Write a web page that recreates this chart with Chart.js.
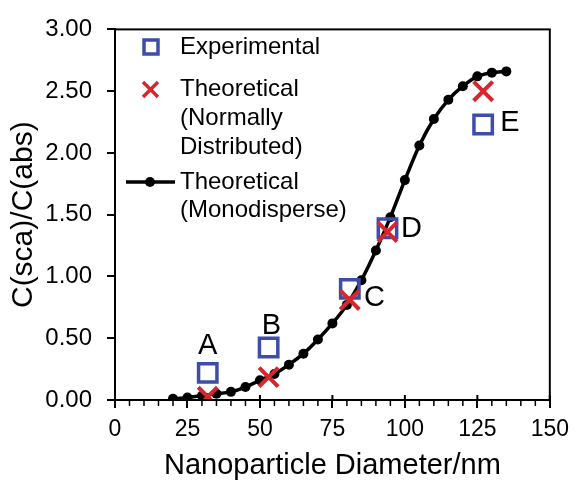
<!DOCTYPE html>
<html>
<head>
<meta charset="utf-8">
<script src="https://cdn.jsdelivr.net/npm/chart.js@4"></script>
<style>
  html, body { margin: 0; padding: 0; background: #fff; }
  #wrap { width: 577px; height: 480px; }
</style>
</head>
<body>
<div id="wrap"><canvas id="chart"></canvas></div>
<script>
// monodisperse theory curve
const monoD = [20, 25, 30, 35, 40, 45, 50, 55, 60, 65, 70, 75, 80, 85, 90, 95, 100, 105, 110, 115, 120, 125, 130, 135];
const monoR = [0.01, 0.02, 0.035, 0.05, 0.066, 0.105, 0.16, 0.21, 0.286, 0.375, 0.49, 0.62, 0.77, 0.97, 1.21, 1.48, 1.78, 2.06, 2.275, 2.43, 2.54, 2.62, 2.65, 2.66];

// samples A-E
const sampleNames = ['A', 'B', 'C', 'D', 'E'];
const sampleD  = [32, 53, 81, 94, 127];
const expR     = [0.22, 0.425, 0.90, 1.39, 2.23];
const theoR    = [0.026, 0.185, 0.81, 1.36, 2.50];
// where the letter labels sit (data units)
const nameX = [32, 54, 89.5, 102.3, 136.2];
const nameY = [0.444, 0.61, 0.83, 1.39, 2.25];

const yTicks = [0, 0.5, 1, 1.5, 2, 2.5, 3];

const BLUE = 'rgb(62, 76, 172)';
const RED  = 'rgb(214, 38, 46)';
const FONT = "'Liberation Sans', Arial, sans-serif";

const toXY = (xs, ys) => xs.map((x, i) => ({ x, y: ys[i] }));

const frame = {
    id: 'frame',
    afterDraw(chart) {
        const { ctx, chartArea: a, scales: { x } } = chart;
        ctx.save();
        ctx.strokeStyle = '#000';
        ctx.lineWidth = 2;
        ctx.strokeRect(a.left, a.top, a.right - a.left, a.bottom - a.top);
        // minor ticks every 5 nm
        ctx.lineWidth = 1.5;
        for (let v = 0; v <= 150; v += 5) {
            if (v % 25 === 0) continue;
            const px = x.getPixelForValue(v);
            ctx.beginPath();
            ctx.moveTo(px, a.bottom);
            ctx.lineTo(px, a.bottom + 6);
            ctx.stroke();
        }
        // major ticks poke a little inside too
        ctx.lineWidth = 2;
        for (let v = 0; v <= 150; v += 25) {
            const px = x.getPixelForValue(v);
            ctx.beginPath();
            ctx.moveTo(px, a.bottom - 5);
            ctx.lineTo(px, a.bottom);
            ctx.stroke();
        }
        ctx.restore();
    }
};

const letters = {
    id: 'letters',
    afterDatasetsDraw(chart) {
        const { ctx, scales: { x, y } } = chart;
        ctx.save();
        ctx.fillStyle = '#000';
        ctx.font = '29px ' + FONT;
        ctx.textAlign = 'center';
        ctx.textBaseline = 'middle';
        sampleNames.forEach((n, i) => {
            ctx.fillText(n, x.getPixelForValue(nameX[i]), y.getPixelForValue(nameY[i]) + 1);
        });
        ctx.restore();
    }
};

const legendBox = {
    id: 'legendBox',
    afterDraw(chart) {
        const ctx = chart.ctx;
        ctx.save();
        ctx.font = '24px ' + FONT;
        ctx.fillStyle = '#000';
        ctx.textBaseline = 'middle';
        ctx.textAlign = 'left';
        const tx = 180;
        // square
        ctx.strokeStyle = BLUE;
        ctx.lineWidth = 3.5;
        ctx.strokeRect(144, 40, 14, 14);
        ctx.fillText('Experimental', tx, 47);
        // cross
        ctx.strokeStyle = RED;
        ctx.lineWidth = 3.5;
        ctx.beginPath();
        ctx.moveTo(143, 82); ctx.lineTo(158, 97);
        ctx.moveTo(158, 82); ctx.lineTo(143, 97);
        ctx.stroke();
        ctx.fillText('Theoretical', tx, 89);
        ctx.fillText('(Normally', tx, 118);
        ctx.fillText('Distributed)', tx, 147);
        // line + dot
        ctx.strokeStyle = '#000';
        ctx.lineWidth = 3.5;
        ctx.beginPath();
        ctx.moveTo(126, 182); ctx.lineTo(175, 182);
        ctx.stroke();
        ctx.beginPath();
        ctx.arc(150, 182, 5, 0, Math.PI * 2);
        ctx.fill();
        ctx.fillText('Theoretical', tx, 182);
        ctx.fillText('(Monodisperse)', tx, 210);
        ctx.restore();
    }
};

new Chart(document.getElementById('chart'), {
    type: 'scatter',
    data: {
        datasets: [
            {
                label: 'Theoretical (Normally Distributed)',
                data: toXY(sampleD, theoR),
                order: 0,
                pointStyle: 'crossRot',
                pointRadius: 13.5,
                pointBorderWidth: 4,
                borderColor: RED,
                backgroundColor: RED
            },
            {
                label: 'Experimental',
                data: toXY(sampleD, expR),
                order: 1,
                pointStyle: 'rect',
                pointRadius: 13,
                pointBorderWidth: 3.5,
                borderColor: BLUE,
                backgroundColor: 'rgba(0,0,0,0)'
            },
            {
                label: 'Theoretical (Monodisperse)',
                data: toXY(monoD, monoR),
                order: 2,
                showLine: true,
                cubicInterpolationMode: 'monotone',
                borderColor: '#000',
                borderWidth: 3.5,
                pointRadius: 5,
                pointBackgroundColor: '#000',
                pointBorderWidth: 0
            }
        ]
    },
    options: {
        responsive: true,
        maintainAspectRatio: false,
        animation: false,
        layout: { padding: { top: 22, right: 22, left: 0, bottom: 0 } },
        plugins: {
            legend: { display: false },
            tooltip: { enabled: false }
        },
        scales: {
            x: {
                type: 'linear',
                min: 0, max: 150,
                afterFit: s => { s.height = 80; },
                ticks: { stepSize: 25, color: '#000', padding: 8, font: { family: FONT, size: 23 } },
                grid: { drawOnChartArea: false, color: '#000', lineWidth: 2, tickLength: 8 },
                border: { color: '#000', width: 2 },
                title: {
                    display: true,
                    text: 'Nanoparticle Diameter/nm',
                    color: '#000',
                    font: { family: FONT, size: 29, lineHeight: 1 },
                    padding: 0
                }
            },
            y: {
                min: 0, max: 3,
                afterFit: s => { s.width = 115; },
                afterBuildTicks: s => { s.ticks = yTicks.map(v => ({ value: v })); },
                ticks: {
                    color: '#000', padding: 15,
                    font: { family: FONT, size: 24 },
                    callback: v => Number(v).toFixed(2)
                },
                grid: { drawOnChartArea: false, color: '#000', lineWidth: 2, tickLength: 8 },
                border: { color: '#000', width: 2 },
                title: {
                    display: true,
                    text: 'C(sca)/C(abs)',
                    color: '#000',
                    font: { family: FONT, size: 30, lineHeight: 1 },
                    padding: { top: 9, bottom: 0 }
                }
            }
        }
    },
    plugins: [frame, letters, legendBox]
});
</script>
</body>
</html>
